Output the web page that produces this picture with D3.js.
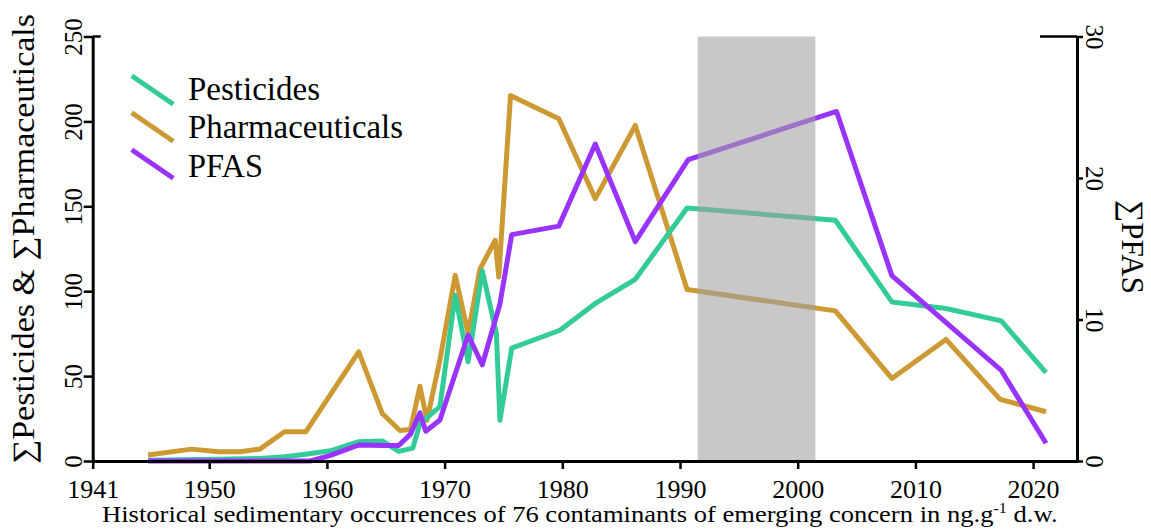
<!DOCTYPE html>
<html>
<head>
<meta charset="utf-8">
<script src="https://cdn.jsdelivr.net/npm/d3@7"></script>
<style>
  body { margin: 0; background: white; }
  svg { display: block; }
  svg text { font-family: "Liberation Serif", "Nimbus Roman", "Times New Roman", Times, serif; }
</style>
</head>
<body>
<div id="chart"></div>
<script>
// Chart data
const pestYears = [1944.8, 1950.8, 1954.3, 1956.4, 1958.2, 1960.3, 1962.7, 1964.7, 1966.1, 1967.3, 1967.9, 1969.6, 1970.9, 1972.0, 1973.2, 1974.4, 1974.7, 1975.7, 1979.8, 1982.8, 1986.2, 1990.6, 2003.2, 2008.0, 2012.6, 2017.3, 2021.1];
const pestValues = [0.5, 1, 1.5, 2.5, 4, 6, 11.4, 11.8, 5.7, 7.6, 22, 32, 97.6, 58.4, 112, 75, 24, 66.5, 77, 92.8, 107, 149, 141.8, 93.7, 89.8, 82.5, 52];

const pharmYears = [1944.8, 1948.5, 1950.8, 1952.6, 1954.3, 1956.4, 1958.2, 1962.7, 1964.7, 1966.2, 1967.1, 1967.9, 1968.5, 1969.6, 1970.9, 1972.0, 1973.0, 1974.3, 1974.6, 1975.6, 1979.7, 1982.8, 1986.2, 1990.6, 2003.2, 2008.0, 2012.6, 2017.2, 2021.1];
const pharmValues = [3.5, 7, 5.5, 5.5, 7, 17.2, 17.2, 64.3, 28, 18, 18.5, 44, 24, 59.4, 109.4, 75, 113, 130, 108.4, 215.3, 201.6, 154.5, 197.6, 101, 88.4, 48.6, 71.6, 36.3, 29];

const pfasYears = [1944.8, 1958.6, 1960.3, 1962.7, 1964.7, 1966.1, 1967.1, 1967.9, 1968.4, 1969.6, 1972.0, 1973.2, 1974.7, 1975.7, 1979.7, 1982.8, 1986.2, 1990.7, 2003.3, 2008.0, 2017.3, 2021.1];
const pfasValues = [0, 0, 0.4, 1.13, 1.1, 1.1, 1.9, 3.4, 2.1, 2.9, 8.9, 6.8, 11.1, 16.0, 16.6, 22.4, 15.5, 21.3, 24.7, 13.1, 6.4, 1.25];

const seriesNames = ["Pesticides", "Pharmaceuticals", "PFAS"];
const seriesColors = ["#33CC99", "#CC9933", "#9933FF"];

// axes
const xDomain = [1940.1, 2023.73];
const xTickValues = [1940.1, 1950, 1960, 1970, 1980, 1990, 2000, 2010, 2020];
const xTickLabels = ["1941", "1950", "1960", "1970", "1980", "1990", "2000", "2010", "2020"];
const yLeftTicks = [0, 50, 100, 150, 200, 250];
const yRightTicks = [0, 10, 20, 30];
const shadedPeriod = [1991.5, 2001.5];

const width = 1151, height = 530;
const margin = {top: 36.5, right: 74, bottom: 69, left: 92.7};
const plotW = width - margin.left - margin.right;
const plotH = height - margin.top - margin.bottom;

const svg = d3.select("#chart").append("svg")
  .attr("width", width)
  .attr("height", height);

const g = svg.append("g")
  .attr("transform", `translate(${margin.left},${margin.top})`);

const x = d3.scaleLinear().domain(xDomain).range([0, plotW]);
const yLeft = d3.scaleLinear().domain([0, 250]).range([plotH, 0]);
const yRight = d3.scaleLinear().domain([0, 30]).range([plotH, 0]);

// ratio needed so a text spans a given length
function fitLength(textSel, target) {
  const w = textSel.node().getComputedTextLength();
  return target / w;
}

// lines (pharmaceuticals below, pfas on top)
const lineLeft = d3.line().x(d => x(d[0])).y(d => yLeft(d[1]));
const lineRight = d3.line().x(d => x(d[0])).y(d => yRight(d[1]));

const drawOrder = [
  {years: pharmYears, values: pharmValues, color: seriesColors[1], gen: lineLeft},
  {years: pestYears, values: pestValues, color: seriesColors[0], gen: lineLeft},
  {years: pfasYears, values: pfasValues, color: seriesColors[2], gen: lineRight}
];

drawOrder.forEach(s => {
  g.append("path")
    .datum(s.years.map((yr, i) => [yr, s.values[i]]))
    .attr("d", s.gen)
    .attr("fill", "none")
    .attr("stroke", s.color)
    .attr("stroke-width", 5)
    .attr("stroke-linejoin", "round");
});

// grey band over the lines
g.append("rect")
  .attr("x", x(shadedPeriod[0]))
  .attr("y", 0)
  .attr("width", x(shadedPeriod[1]) - x(shadedPeriod[0]))
  .attr("height", plotH)
  .attr("fill", "#a0a0a0")
  .attr("fill-opacity", 0.58);

// bottom axis
const xAxis = g.append("g")
  .attr("transform", `translate(0,${plotH})`)
  .call(d3.axisBottom(x).tickValues(xTickValues)
    .tickFormat((d, i) => xTickLabels[i]).tickSize(8).tickSizeOuter(0));
xAxis.selectAll("text")
  .attr("y", 37)
  .attr("dy", null)
  .style("font-size", "26px")
  .attr("fill", "black");

// left axis
const leftAxis = g.append("g")
  .call(d3.axisLeft(yLeft).tickValues(yLeftTicks).tickSize(9).tickSizeOuter(0));
leftAxis.selectAll("text")
  .attr("x", null)
  .attr("dy", null)
  .attr("text-anchor", "middle")
  .attr("transform", "translate(-11,0) rotate(-90)")
  .style("font-size", "25px")
  .attr("fill", "black");

// right axis
const rightAxis = g.append("g")
  .attr("transform", `translate(${plotW},0)`)
  .call(d3.axisRight(yRight).tickValues(yRightTicks).tickSize(6).tickSizeOuter(0));
rightAxis.selectAll("text")
  .attr("x", null)
  .attr("dy", null)
  .attr("text-anchor", "middle")
  .attr("transform", "translate(9,0) rotate(90)")
  .style("font-size", "25px")
  .attr("fill", "black");

[xAxis, leftAxis, rightAxis].forEach(a => {
  a.attr("font-family", null);
  a.select(".domain").attr("stroke", "black").attr("stroke-width", 3);
  a.selectAll(".tick line").attr("stroke", "black").attr("stroke-width", 2.5);
});

// short inner stubs at the top of both axes
leftAxis.append("line")
  .attr("x1", 0).attr("x2", 8)
  .attr("y1", yLeft(250)).attr("y2", yLeft(250))
  .attr("stroke", "black").attr("stroke-width", 2.5);
rightAxis.append("line")
  .attr("x1", -37).attr("x2", 0)
  .attr("y1", yRight(30)).attr("y2", yRight(30))
  .attr("stroke", "black").attr("stroke-width", 2.5);

// axis titles
const leftTitle = svg.append("text")
  .attr("text-anchor", "middle")
  .style("font-size", "31px")
  .text("∑Pesticides & ∑Pharmaceuticals");
const sL = fitLength(leftTitle, 450);
leftTitle.attr("transform", `translate(34,239) rotate(-90) scale(${sL},1)`);

const rightTitle = svg.append("text")
  .attr("text-anchor", "middle")
  .style("font-size", "31px")
  .text("∑PFAS");
const sR = fitLength(rightTitle, 94);
rightTitle.attr("transform", `translate(1122,247) rotate(90) scale(${sR},1)`);

const bottomTitle = svg.append("text")
  .style("font-size", "23px");
bottomTitle.append("tspan").text("Historical sedimentary occurrences of 76 contaminants of emerging concern in ng.g");
bottomTitle.append("tspan").style("font-size", "14px").attr("dy", -9).text("-1");
bottomTitle.append("tspan").attr("dy", 9).text(" d.w.");
const sB = 956 / bottomTitle.node().getBBox().width;
bottomTitle.attr("transform", `translate(102,522) scale(${sB},1)`);

// legend
const legendWidths = [132, 215, 75];
const legend = svg.append("g");
seriesNames.forEach((name, i) => {
  const ly = 75.7 + i * 37;
  legend.append("line")
    .attr("x1", 131.7).attr("y1", ly)
    .attr("x2", 173.3).attr("y2", ly + 28.6)
    .attr("stroke", seriesColors[i])
    .attr("stroke-width", 5);
  const t = legend.append("text")
    .style("font-size", "33px")
    .text(name);
  const s = fitLength(t, legendWidths[i]);
  t.attr("transform", `translate(188,${99.5 + i * 38.6}) scale(${s},1)`);
});
</script>
</body>
</html>
